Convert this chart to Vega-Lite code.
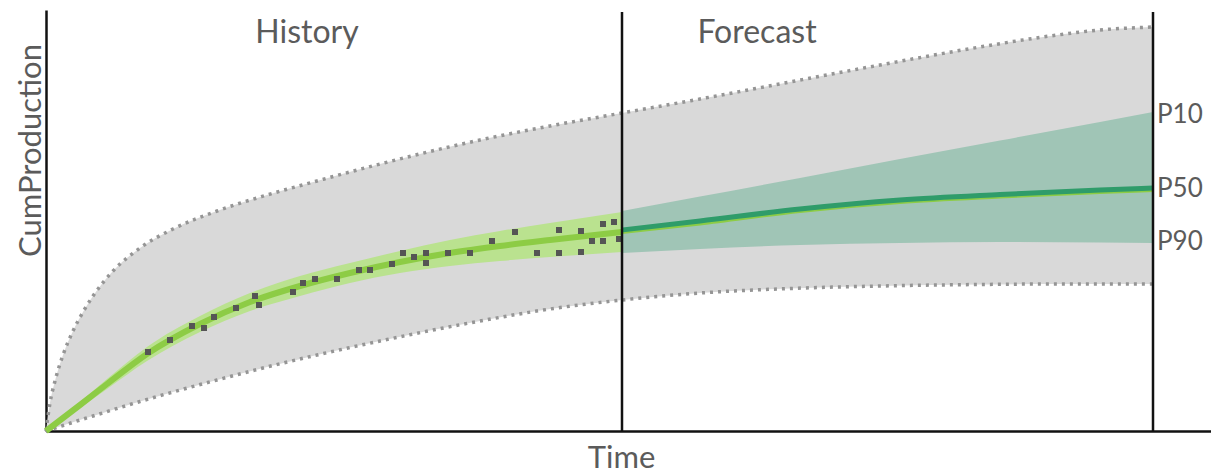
{
  "$schema": "https://vega.github.io/schema/vega-lite/v6.json",
  "width": 1165,
  "height": 421,
  "autosize": {"type": "none"},
  "padding": {"left": 46, "top": 10, "right": 0, "bottom": 44},
  "background": "white",
  "config": {
    "view": {"stroke": null},
    "font": "Lato"
  },
  "datasets": {
    "env": [
      {"t": 0, "lo": 0, "hi": 0},
      {"t": 2, "lo": 0.65, "hi": 15},
      {"t": 4, "lo": 1.3, "hi": 28},
      {"t": 9, "lo": 2.9, "hi": 50},
      {"t": 17, "lo": 5.5, "hi": 76},
      {"t": 27, "lo": 8.7, "hi": 100},
      {"t": 37, "lo": 11.9, "hi": 119},
      {"t": 47, "lo": 15, "hi": 135},
      {"t": 67, "lo": 21.3, "hi": 160},
      {"t": 94, "lo": 29.5, "hi": 183},
      {"t": 127, "lo": 39, "hi": 202},
      {"t": 171, "lo": 51, "hi": 220},
      {"t": 221, "lo": 64, "hi": 236},
      {"t": 271, "lo": 76, "hi": 250},
      {"t": 334, "lo": 90, "hi": 267},
      {"t": 434, "lo": 110, "hi": 291},
      {"t": 504, "lo": 122, "hi": 305},
      {"t": 576, "lo": 131, "hi": 318},
      {"t": 654, "lo": 138, "hi": 332},
      {"t": 744, "lo": 142.5, "hi": 349},
      {"t": 834, "lo": 145, "hi": 366},
      {"t": 934, "lo": 146.5, "hi": 384},
      {"t": 1004, "lo": 147, "hi": 395},
      {"t": 1054, "lo": 147, "hi": 401},
      {"t": 1107, "lo": 147, "hi": 404}
    ],
    "hist": [
      {"t": 0, "c": 0, "lo": 0, "hi": 1},
      {"t": 34, "c": 26, "lo": 23, "hi": 29},
      {"t": 61, "c": 47, "lo": 42, "hi": 52},
      {"t": 101, "c": 77, "lo": 70, "hi": 84},
      {"t": 154, "c": 107, "lo": 99, "hi": 115},
      {"t": 204, "c": 129, "lo": 120, "hi": 138},
      {"t": 254, "c": 145, "lo": 135, "hi": 155},
      {"t": 304, "c": 158, "lo": 148, "hi": 168},
      {"t": 354, "c": 169, "lo": 158, "hi": 180},
      {"t": 404, "c": 178, "lo": 165, "hi": 191},
      {"t": 454, "c": 185, "lo": 170, "hi": 200},
      {"t": 504, "c": 191, "lo": 174, "hi": 208},
      {"t": 576, "c": 199, "lo": 179, "hi": 219}
    ],
    "fc": [
      {"t": 576, "p10": 220, "p90": 178, "p50": 201, "p50b": 198.5},
      {"t": 654, "p10": 234.5, "p90": 182, "p50": 210, "p50b": 207},
      {"t": 754, "p10": 253, "p90": 186, "p50": 222, "p50b": 219.5},
      {"t": 854, "p10": 272, "p90": 188, "p50": 231, "p50b": 228.5},
      {"t": 954, "p10": 290.5, "p90": 189, "p50": 236.5, "p50b": 234},
      {"t": 1054, "p10": 309, "p90": 188.5, "p50": 241, "p50b": 238.5},
      {"t": 1107, "p10": 319, "p90": 188, "p50": 243, "p50b": 240.5}
    ],
    "pts": [
      {"t": 102, "v": 79}, {"t": 124, "v": 91}, {"t": 146, "v": 105}, {"t": 158, "v": 103},
      {"t": 168, "v": 114}, {"t": 190, "v": 123}, {"t": 209, "v": 135}, {"t": 213, "v": 126},
      {"t": 247, "v": 139}, {"t": 257, "v": 148}, {"t": 269, "v": 152}, {"t": 291, "v": 152},
      {"t": 313, "v": 161}, {"t": 324, "v": 161}, {"t": 346, "v": 167}, {"t": 357, "v": 178},
      {"t": 368, "v": 174}, {"t": 380, "v": 178}, {"t": 380, "v": 168}, {"t": 402, "v": 178},
      {"t": 424, "v": 178}, {"t": 446, "v": 190}, {"t": 469, "v": 199}, {"t": 491, "v": 178},
      {"t": 513, "v": 201}, {"t": 513, "v": 178}, {"t": 535, "v": 200}, {"t": 535, "v": 179},
      {"t": 546, "v": 190}, {"t": 557, "v": 207}, {"t": 557, "v": 190}, {"t": 568, "v": 209},
      {"t": 573, "v": 192}
    ],
    "vlines": [
      {"t": 576, "y1": 0, "y2": 419},
      {"t": 1107, "y1": 0, "y2": 419}
    ],
    "titles": [
      {"t": 261, "v": 388, "label": "History"},
      {"t": 711, "v": 388, "label": "Forecast"}
    ],
    "plabels": [
      {"t": 1111, "v": 308, "label": "P10"},
      {"t": 1111, "v": 234, "label": "P50"},
      {"t": 1111, "v": 181, "label": "P90"}
    ]
  },
  "layer": [
    {
      "data": {"name": "env"},
      "mark": {"type": "area", "color": "#d9d9d9", "interpolate": "monotone"},
      "encoding": {
        "x": {"field": "t", "type": "quantitative", "scale": {"domain": [0, 1165], "nice": false, "zero": false},
          "axis": {"title": "Time", "labels": false, "ticks": false, "grid": false, "domainColor": "#111111", "domainWidth": 2.5,
            "titleFont": "Lato", "titleFontSize": 31, "titleFontWeight": "normal", "titleColor": "#5b5b5b",
            "titleX": 575, "titleY": 36, "titleAlign": "center", "titleBaseline": "alphabetic"}},
        "y": {"field": "lo", "type": "quantitative", "scale": {"domain": [0, 421], "nice": false, "zero": false},
          "axis": {"title": "CumProduction", "labels": false, "ticks": false, "grid": false, "domainColor": "#111111", "domainWidth": 2.5,
            "titleFont": "Lato", "titleFontSize": 31, "titleFontWeight": "normal", "titleColor": "#5b5b5b",
            "titleX": -6, "titleY": 140, "titleAngle": 270, "titleAlign": "center", "titleBaseline": "alphabetic"}},
        "y2": {"field": "hi"}
      }
    },
    {
      "data": {"name": "env"},
      "mark": {"type": "line", "color": "#959595", "strokeWidth": 3.5, "strokeDash": [3, 5], "interpolate": "monotone"},
      "encoding": {
        "x": {"field": "t", "type": "quantitative"},
        "y": {"field": "hi", "type": "quantitative"}
      }
    },
    {
      "data": {"name": "env"},
      "mark": {"type": "line", "color": "#959595", "strokeWidth": 3.5, "strokeDash": [3, 5], "interpolate": "monotone"},
      "encoding": {
        "x": {"field": "t", "type": "quantitative"},
        "y": {"field": "lo", "type": "quantitative"}
      }
    },
    {
      "data": {"name": "hist"},
      "mark": {"type": "area", "color": "#bae28f", "interpolate": "monotone"},
      "encoding": {
        "x": {"field": "t", "type": "quantitative"},
        "y": {"field": "lo", "type": "quantitative"},
        "y2": {"field": "hi"}
      }
    },
    {
      "data": {"name": "hist"},
      "mark": {"type": "line", "color": "#8dcc45", "strokeWidth": 6, "interpolate": "monotone"},
      "encoding": {
        "x": {"field": "t", "type": "quantitative"},
        "y": {"field": "c", "type": "quantitative"}
      }
    },
    {
      "data": {"name": "fc"},
      "mark": {"type": "area", "color": "#a0c5b6", "interpolate": "monotone"},
      "encoding": {
        "x": {"field": "t", "type": "quantitative"},
        "y": {"field": "p90", "type": "quantitative"},
        "y2": {"field": "p10"}
      }
    },
    {
      "data": {"name": "fc"},
      "mark": {"type": "line", "color": "#8dcc45", "strokeWidth": 3, "interpolate": "monotone"},
      "encoding": {
        "x": {"field": "t", "type": "quantitative"},
        "y": {"field": "p50b", "type": "quantitative"}
      }
    },
    {
      "data": {"name": "fc"},
      "mark": {"type": "line", "color": "#2f9c6a", "strokeWidth": 5, "interpolate": "monotone"},
      "encoding": {
        "x": {"field": "t", "type": "quantitative"},
        "y": {"field": "p50", "type": "quantitative"}
      }
    },
    {
      "data": {"name": "pts"},
      "mark": {"type": "point", "shape": "square", "filled": true, "color": "#555555", "opacity": 1, "size": 36},
      "encoding": {
        "x": {"field": "t", "type": "quantitative"},
        "y": {"field": "v", "type": "quantitative"}
      }
    },
    {
      "data": {"name": "vlines"},
      "mark": {"type": "rule", "color": "#111111", "strokeWidth": 2.5},
      "encoding": {
        "x": {"field": "t", "type": "quantitative"},
        "y": {"field": "y1", "type": "quantitative"},
        "y2": {"field": "y2"}
      }
    },
    {
      "data": {"name": "titles"},
      "mark": {"type": "text", "font": "Lato", "fontSize": 32, "color": "#5b5b5b", "align": "center", "baseline": "alphabetic"},
      "encoding": {
        "x": {"field": "t", "type": "quantitative"},
        "y": {"field": "v", "type": "quantitative"},
        "text": {"field": "label"}
      }
    },
    {
      "data": {"name": "plabels"},
      "mark": {"type": "text", "font": "Lato", "fontSize": 26, "color": "#5b5b5b", "align": "left", "baseline": "alphabetic"},
      "encoding": {
        "x": {"field": "t", "type": "quantitative"},
        "y": {"field": "v", "type": "quantitative"},
        "text": {"field": "label"}
      }
    }
  ]
}
